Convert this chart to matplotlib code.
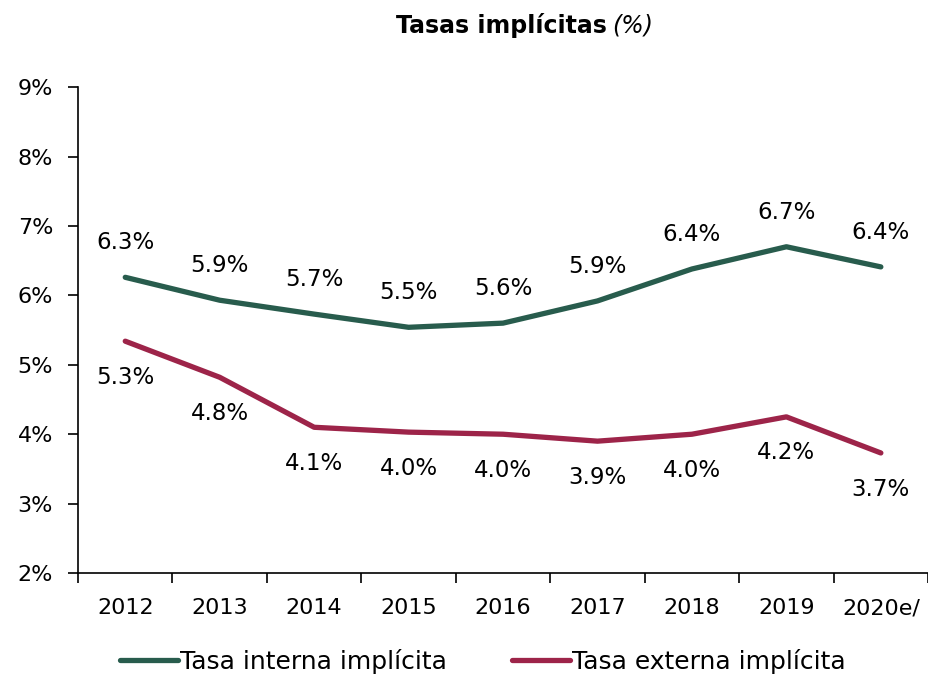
import matplotlib
matplotlib.use("Agg")
import matplotlib.pyplot as plt
import numpy as np

years = ["2012", "2013", "2014", "2015", "2016", "2017", "2018", "2019", "2020e/"]
interna = [6.26, 5.93, 5.73, 5.54, 5.60, 5.92, 6.38, 6.70, 6.41]
externa = [5.34, 4.82, 4.10, 4.03, 4.00, 3.90, 4.00, 4.25, 3.73]

verde = "#285C4D"
guinda = "#9D2449"

plt.rcParams["font.family"] = "DejaVu Sans"

fig = plt.figure(figsize=(9.29, 6.75), dpi=100)
ax = fig.add_axes([0.084, 0.151, 0.915, 0.72])

x = np.arange(len(years))
ax.plot(x, interna, color=verde, lw=3.8, solid_capstyle="round", label="Tasa interna implícita")
ax.plot(x, externa, color=guinda, lw=3.8, solid_capstyle="round", label="Tasa externa implícita")

for i in range(len(years)):
    ax.annotate(f"{interna[i]:.1f}%", (x[i], interna[i]), xytext=(0, 25), textcoords="offset points",
                ha="center", va="center", fontsize=16.5)
    ax.annotate(f"{externa[i]:.1f}%", (x[i], externa[i]), xytext=(0, -26), textcoords="offset points",
                ha="center", va="center", fontsize=16.5)

ax.set_xlim(-0.5, len(years) - 0.5)
ax.set_ylim(2, 9)
ax.set_yticks(range(2, 10))
ax.set_yticklabels([f"{v}%" for v in range(2, 10)], fontsize=16)
ax.set_xticks(x)
ax.set_xticklabels(years, fontsize=16)
ax.tick_params(axis="x", length=0, pad=18)
ax.set_xticks(np.arange(-0.5, len(years)), minor=True)
ax.tick_params(axis="x", which="minor", length=7, direction="out", width=1.2)
ax.tick_params(axis="y", length=7, width=1.2, pad=11)

for s in ["top", "right"]:
    ax.spines[s].set_visible(False)
ax.spines["left"].set_linewidth(1.2)
ax.spines["bottom"].set_linewidth(1.2)

fig.text(0.653, 0.962, "Tasas implícitas", fontsize=17, fontweight="bold", ha="right", va="center")
fig.text(0.659, 0.962, "(%)", fontsize=17, style="italic", ha="left", va="center")

fig.legend(loc="center", bbox_to_anchor=(0.52, 0.02), ncol=2, frameon=False,
           fontsize=18, handlelength=2.3, handletextpad=0.1, columnspacing=2.6)

fig.savefig("out.png", dpi=100)
